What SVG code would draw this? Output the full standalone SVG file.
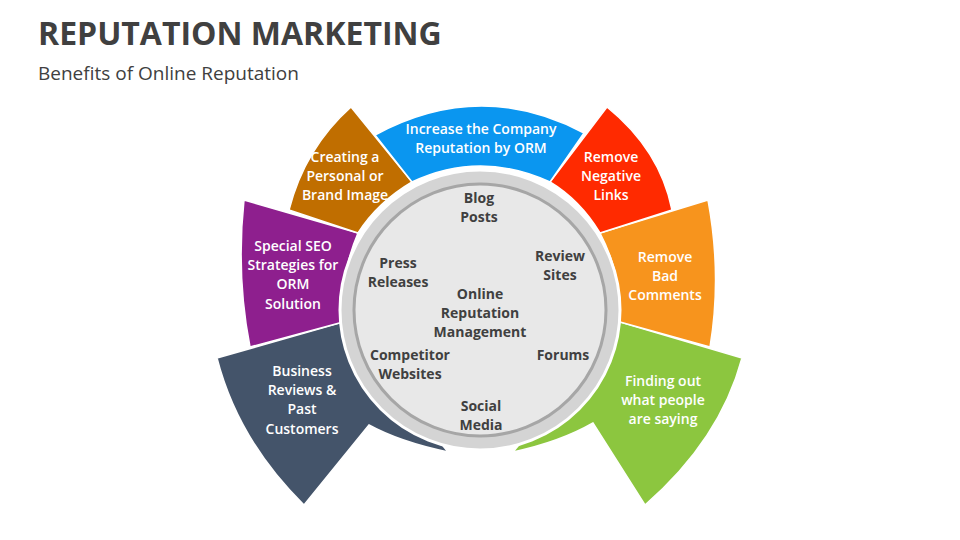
<svg xmlns="http://www.w3.org/2000/svg" width="960" height="540" viewBox="0 0 960 540">
<style>
.w{font-family:"Open Sans","Liberation Sans",sans-serif;font-size:14px;font-weight:600;fill:#fff;text-anchor:middle}
.d{font-family:"Open Sans","Liberation Sans",sans-serif;font-size:14px;font-weight:700;fill:#404040;text-anchor:middle}
.p{stroke:#fff;stroke-width:1.5}
</style>
<rect width="960" height="540" fill="#fff"/>
<text x="38" y="45" font-family="Open Sans,Liberation Sans,sans-serif" font-size="32" font-weight="700" fill="#404040">REPUTATION MARKETING</text>
<text x="38" y="80" font-family="Open Sans,Liberation Sans,sans-serif" font-size="19" fill="#404040">Benefits of Online Reputation</text>
<g id="petal-dark"><path class="p" fill="#44546A" d="M217,358 L343,322 L448,452 Q400,442 369,425 L304,505 Q238,440 217,358Z"/>
<text class="w"><tspan x="302" y="376">Business</tspan><tspan x="302" y="395">Reviews &amp;</tspan><tspan x="302" y="414">Past</tspan><tspan x="302" y="434">Customers</tspan></text></g>
<g id="petal-green"><path class="p" fill="#8CC63F" d="M742,358 L620,322 L513,452 Q560,442 593,423 L645,505 Q720,440 742,358Z"/>
<text class="w"><tspan x="663" y="386">Finding out</tspan><tspan x="663" y="405">what people</tspan><tspan x="663" y="424">are saying</tspan></text></g>
<g id="petal-purple"><path class="p" fill="#8E1F8E" d="M244,200 L358,233 Q340,275 343,322 L250,347 Q236,275 244,200Z"/>
<text class="w"><tspan x="293" y="251">Special SEO</tspan><tspan x="293" y="270">Strategies for</tspan><tspan x="293" y="289">ORM</tspan><tspan x="293" y="309">Solution</tspan></text></g>
<g id="petal-orange"><path class="p" fill="#F7941D" d="M708,200 Q722,275 710,347 L620,322 Q622,275 600,233Z"/>
<text class="w"><tspan x="665" y="262">Remove</tspan><tspan x="665" y="281">Bad</tspan><tspan x="665" y="300">Comments</tspan></text></g>
<g id="petal-brown"><path class="p" fill="#C06E00" d="M351,107 L412,182 Q378,202 358,233 L289,210 Q305,148 351,107Z"/>
<text class="w"><tspan x="345" y="162">Creating a</tspan><tspan x="345" y="181">Personal or</tspan><tspan x="345" y="200">Brand Image</tspan></text></g>
<g id="petal-red"><path class="p" fill="#FF2A00" d="M607,107 Q660,150 672,210 L600,233 Q580,200 550,182Z"/>
<text class="w"><tspan x="611" y="162">Remove</tspan><tspan x="611" y="181">Negative</tspan><tspan x="611" y="200">Links</tspan></text></g>
<g id="petal-blue"><path class="p" fill="#0A96F0" d="M412,182 L375,135 Q480,78 584,133 L550,182 Q480,150 412,182Z"/>
<text class="w"><tspan x="481" y="134">Increase the Company</tspan><tspan x="481" y="153">Reputation by ORM</tspan></text></g>
<g id="center">
<circle cx="480" cy="310" r="140" fill="#D4D4D4" stroke="#fff" stroke-width="3"/>
<circle cx="480" cy="310" r="126" fill="#E8E8E8" stroke="#A6A6A6" stroke-width="3"/>
<text class="d"><tspan x="479" y="203">Blog</tspan><tspan x="479" y="222">Posts</tspan></text>
<text class="d"><tspan x="560" y="261">Review</tspan><tspan x="560" y="280">Sites</tspan></text>
<text class="d"><tspan x="398" y="268">Press</tspan><tspan x="398" y="287">Releases</tspan></text>
<text class="d"><tspan x="480" y="299">Online</tspan><tspan x="480" y="318">Reputation</tspan><tspan x="480" y="337">Management</tspan></text>
<text class="d"><tspan x="410" y="360">Competitor</tspan><tspan x="410" y="379">Websites</tspan></text>
<text class="d"><tspan x="563" y="360">Forums</tspan></text>
<text class="d"><tspan x="481" y="411">Social</tspan><tspan x="481" y="430">Media</tspan></text>
</g>
</svg>
